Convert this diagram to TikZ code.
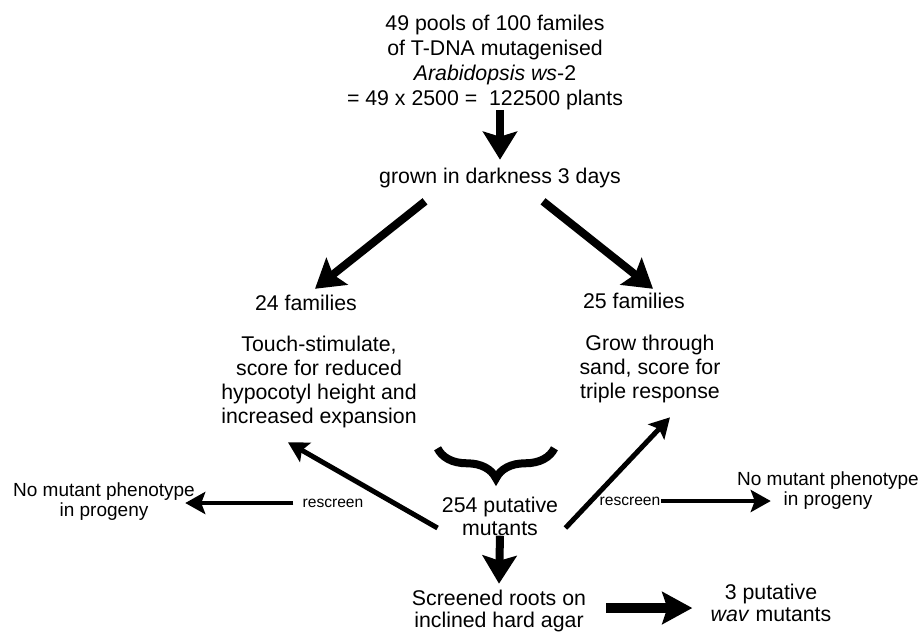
\documentclass[tikz,border=0pt]{standalone}
\usepackage{fontspec}
\setmainfont{Liberation Sans}
\usetikzlibrary{arrows.meta,decorations.pathreplacing}

\tikzset{
  txt/.style={inner sep=0pt,align=center,font=\fontsize{10.65}{12}\selectfont},
  note/.style={inner sep=0pt,align=center,font=\fontsize{9.5}{10}\selectfont},
  tag/.style={inner sep=0pt,font=\fontsize{7.8}{9}\selectfont},
  fat/.style={line width=4pt,-{Stealth[length=14pt,width=17pt,inset=2.5pt]}},
  slim/.style={line width=2.5pt,-{Stealth[length=10pt,width=11pt,inset=2pt]}},
  hair/.style={line width=2pt,-{Stealth[length=10pt,width=11pt,inset=2pt]}},
}

\begin{document}
\begin{tikzpicture}[x=0.5pt,y=-0.5pt]
         \useasboundingbox (0,0) rectangle (920,633);

         \node[txt,font=\fontsize{10.65}{12.5}\selectfont](pools) at (495,62) {49 pools of 100 familes\\ of T-DNA mutagenised\\ \textit{Arabidopsis ws}-2\\ = 49 x 2500 =\ \ 122500 plants\hspace*{10pt}};
         \node[txt](grown) at (500,178) {grown in darkness 3 days};
         \node[txt](fam24) at (306,303) {24 families};
         \node[txt](fam25) at (634,301) {25 families};
         \node[txt](touch) at (319,382) {Touch-stimulate,\\ score for reduced\\ hypocotyl height and\\ increased expansion};
         \node[txt](sand) at (650,369) {Grow through\\ sand, score for\\ triple response};
         \node[txt,font=\fontsize{10.65}{11.5}\selectfont](mutants) at (500,516) {254 putative\\ mutants};
         \node[note](noL) at (104,502) {No mutant phenotype\\ in progeny};
         \node[note](noR) at (828,491) {No mutant phenotype\\ in progeny};
         \node[tag](reL) at (333,503) {rescreen};
         \node[tag](reR) at (630,501) {rescreen};
         \node[txt,font=\fontsize{10.65}{11}\selectfont](roots) at (499,611) {Screened roots on\\ inclined hard agar};
         \node[txt,font=\fontsize{10.65}{11}\selectfont](wav) at (771,603) {3 putative\\ \textit{wav} mutants};

         \draw[fat]([xshift=2.5pt]pools.south) -- ([yshift=4pt]grown.north);
         \draw[fat]([xshift=-37.5pt,yshift=-6.5pt]grown.south) -- ([xshift=4.5pt,yshift=3pt]fam24.north);
         \draw[fat]([xshift=21.5pt,yshift=-6.5pt]grown.south) -- ([xshift=9.5pt,yshift=2pt]fam25.north);
         \draw[slim]([xshift=-2pt,yshift=-6pt]mutants.west) -- ([xshift=-15.5pt,yshift=-7pt]touch.south);
         \draw[slim]([xshift=3.5pt,yshift=-6pt]mutants.east) -- ([xshift=10pt,yshift=-7pt]sand.south);
         \draw[hair]([xshift=-4.5pt]reL.west) -- ([xshift=-5pt,yshift=-0.5pt]noL.east);
         \draw[hair](reR.east) -- ([xshift=17pt,yshift=-5pt]noR.west);
         \draw[fat](mutants.south) -- ([yshift=3pt]roots.north);
         \draw[line width=5pt,-{Stealth[length=15pt,width=16pt,inset=2.5pt]}]([xshift=10pt,yshift=1.5pt]roots.east) -- ([xshift=-9pt,yshift=-2.5pt]wav.west);

         \draw[line width=4pt,decorate,decoration={brace,amplitude=15pt,aspect=0.5}]
            ([xshift=-2pt,yshift=24pt]mutants.north east) -- ([xshift=-2pt,yshift=24pt]mutants.north west);
\end{tikzpicture}
\end{document}
